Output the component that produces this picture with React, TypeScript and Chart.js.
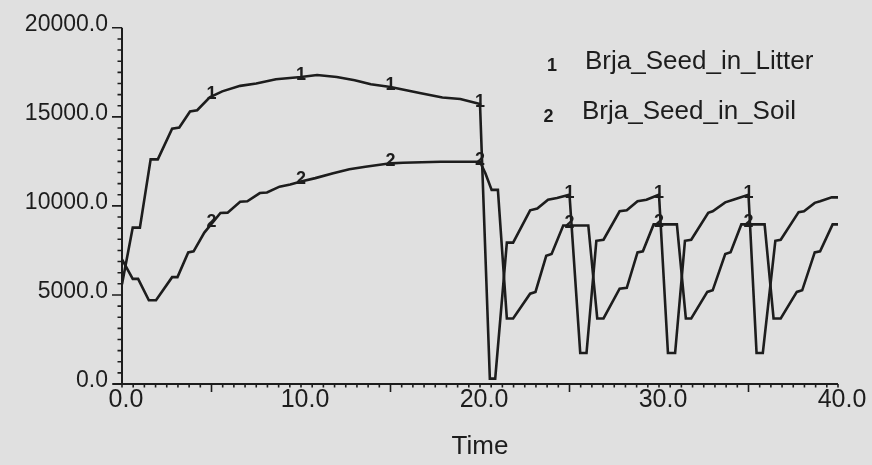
import React, { useEffect, useRef } from 'react';
import { Chart, registerables } from 'chart.js';

Chart.register(...registerables);

// ---- data ----
const litterTime = [
  0.0, 0.6, 1.0, 1.6, 2.0, 2.8, 3.2, 3.8, 4.2, 4.9, 5.6, 6.6, 7.5, 8.6, 10.0, 10.9, 12.0, 13.0, 13.9, 15.0,
  16.7, 17.9, 18.9, 20.0, 20.55, 20.85, 21.5, 21.85, 22.8, 23.2, 23.8, 24.3, 25.0, 25.6, 25.95, 26.5, 26.9,
  27.8, 28.2, 28.8, 29.3, 30.0, 30.5, 30.9, 31.45, 31.8, 32.75, 33.0, 33.7, 34.15, 35.0, 35.45, 35.8, 36.5,
  36.8, 37.8, 38.1, 38.7, 39.0, 39.65, 40.0,
];
const litterValues = [
  5600, 8780, 8780, 12610, 12610, 14330, 14400, 15300, 15370, 16100, 16430, 16740, 16870, 17110, 17240, 17350,
  17240, 17060, 16830, 16680, 16320, 16090, 16000, 15720, 300, 300, 7940, 7940, 9750, 9850, 10350, 10440, 10630,
  1740, 1740, 8040, 8100, 9700, 9750, 10260, 10350, 10630, 1740, 1740, 8040, 8100, 9610, 9700, 10200, 10350,
  10630, 1740, 1740, 8040, 8100, 9650, 9700, 10170, 10260, 10480, 10480,
];
const soilTime = [
  0.0, 0.6, 0.9, 1.5, 1.9, 2.8, 3.1, 3.7, 4.0, 4.6, 5.5, 5.9, 6.6, 7.0, 7.7, 8.1, 8.8, 9.4, 10.0, 10.8, 11.8,
  12.7, 13.6, 15.0, 15.7, 17.8, 20.0, 20.3, 20.65, 21.0, 21.5, 21.85, 22.8, 23.1, 23.7, 24.0, 24.65, 26.05,
  26.55, 26.9, 27.8, 28.2, 28.8, 29.1, 29.7, 31.0, 31.5, 31.8, 32.7, 33.0, 33.7, 34.0, 34.6, 35.9, 36.4, 36.8,
  37.7, 38.0, 38.7, 39.0, 39.7, 40.0,
];
const soilValues = [
  7000, 5900, 5900, 4700, 4700, 6000, 6000, 7390, 7450, 8500, 9600, 9620, 10230, 10260, 10720, 10750, 11080,
  11200, 11370, 11560, 11830, 12060, 12200, 12390, 12420, 12480, 12480, 11830, 10900, 10900, 3680, 3680, 5070,
  5170, 7200, 7300, 8900, 8900, 3680, 3680, 5350, 5400, 7390, 7450, 8960, 8960, 3680, 3680, 5170, 5260, 7300,
  7400, 8960, 8960, 3680, 3680, 5170, 5260, 7390, 7450, 8960, 8960,
];
const seriesNames = ['Brja_Seed_in_Litter', 'Brja_Seed_in_Soil'];
const seriesMarks = ['1', '2'];
const markerTimes = [5, 10, 15, 20, 25, 30, 35];
const xTickValues = [0, 10, 20, 30, 40];
const yTickValues = [0, 5000, 10000, 15000, 20000];
const xTitle = 'Time';

const BG = '#e0e0e0';
const INK = '#1d1d1d';
const FONT = '"Liberation Sans", Arial, Helvetica, sans-serif';

function valueAt(ts: number[], vs: number[], t: number): number {
  for (let i = 0; i < ts.length - 1; i++) {
    if (t >= ts[i] && t <= ts[i + 1]) {
      const f = ts[i + 1] === ts[i] ? 0 : (t - ts[i]) / (ts[i + 1] - ts[i]);
      return vs[i] + f * (vs[i + 1] - vs[i]);
    }
  }
  return vs[vs.length - 1];
}

const decorPlugin = {
  id: 'decor',
  beforeDraw(chart: any) {
    const { ctx, width, height } = chart;
    ctx.save();
    ctx.fillStyle = BG;
    ctx.fillRect(0, 0, width, height);
    ctx.restore();
  },
  afterDatasetsDraw(chart: any) {
    const { ctx } = chart;
    const xs = chart.scales.x;
    const ys = chart.scales.y;
    const series = [
      [litterTime, litterValues],
      [soilTime, soilValues],
    ];
    ctx.save();
    ctx.fillStyle = INK;
    ctx.font = `bold 18px ${FONT}`;
    ctx.textAlign = 'center';
    ctx.textBaseline = 'middle';
    series.forEach(([ts, vs], si) => {
      markerTimes.forEach((t) => {
        const v = valueAt(ts as number[], vs as number[], t);
        ctx.fillText(seriesMarks[si], xs.getPixelForValue(t), ys.getPixelForValue(v) - 2);
      });
    });
    ctx.restore();
  },
  afterDraw(chart: any) {
    const { ctx, chartArea } = chart;
    const xs = chart.scales.x;
    const ys = chart.scales.y;
    const { left, right, top, bottom } = chartArea;
    ctx.save();
    ctx.strokeStyle = INK;
    ctx.lineWidth = 2;
    ctx.beginPath();
    ctx.moveTo(left, top);
    ctx.lineTo(left, bottom + 1);
    ctx.moveTo(left - 9, bottom);
    ctx.lineTo(right, bottom);
    ctx.stroke();
    ctx.lineWidth = 1.6;
    ctx.beginPath();
    for (let k = 0; k <= 64; k++) {
      const t = k * 0.625;
      const px = xs.getPixelForValue(t);
      const len = k % 8 === 0 && k % 16 !== 0 ? 8 : 3.5;
      ctx.moveTo(px, bottom);
      ctx.lineTo(px, bottom + len);
    }
    for (let k = 0; k <= 32; k++) {
      const v = k * 625;
      const py = ys.getPixelForValue(v);
      const len = k % 8 === 0 ? 10 : 4.5;
      ctx.moveTo(left - len, py);
      ctx.lineTo(left, py);
    }
    ctx.stroke();

    // legend
    ctx.fillStyle = INK;
    ctx.textBaseline = 'middle';
    const rows = [
      { mx: 552, my: 66, tx: 585, ty: 62 },
      { mx: 548.5, my: 117, tx: 582, ty: 112 },
    ];
    rows.forEach((r, i) => {
      ctx.textAlign = 'center';
      ctx.font = `bold 18px ${FONT}`;
      ctx.fillText(seriesMarks[i], r.mx, r.my);
      ctx.textAlign = 'left';
      ctx.font = `26px ${FONT}`;
      ctx.fillText(seriesNames[i], r.tx, r.ty);
    });
    ctx.restore();
  },
};

export default function App() {
  const canvasRef = useRef<HTMLCanvasElement | null>(null);

  useEffect(() => {
    document.body.style.margin = '0';
    document.body.style.overflow = 'hidden';
    document.body.style.background = BG;
    const canvas = canvasRef.current;
    if (!canvas) return;
    const chart = new Chart(canvas, {
      type: 'line',
      data: {
        datasets: [
          {
            label: seriesNames[0],
            data: litterTime.map((t, i) => ({ x: t, y: litterValues[i] })),
            borderColor: INK,
            borderWidth: 2.6,
            pointRadius: 0,
            tension: 0,
            fill: false,
          },
          {
            label: seriesNames[1],
            data: soilTime.map((t, i) => ({ x: t, y: soilValues[i] })),
            borderColor: INK,
            borderWidth: 2.6,
            pointRadius: 0,
            tension: 0,
            fill: false,
          },
        ],
      },
      options: {
        animation: false,
        responsive: true,
        maintainAspectRatio: false,
        layout: { padding: { top: 23, right: 34, left: 0, bottom: 0 } },
        plugins: { legend: { display: false }, tooltip: { enabled: false } },
        events: [],
        scales: {
          x: {
            type: 'linear',
            min: 0,
            max: 40,
            afterFit: (s: any) => {
              s.height = 81;
            },
            afterBuildTicks: (s: any) => {
              s.ticks = xTickValues.map((v) => ({ value: v }));
            },
            grid: { display: false, drawTicks: false },
            border: { display: false },
            ticks: {
              padding: 1,
              labelOffset: 4,
              color: INK,
              font: { family: FONT, size: 25 },
              callback: (v: any) => Number(v).toFixed(1),
              maxRotation: 0,
              autoSkip: false,
            },
            title: {
              display: true,
              text: xTitle,
              color: INK,
              font: { family: FONT, size: 26 },
              padding: { top: 0, bottom: 3 },
            },
          },
          y: {
            type: 'linear',
            min: 0,
            max: 20000,
            afterFit: (s: any) => {
              s.width = 122;
            },
            afterBuildTicks: (s: any) => {
              s.ticks = yTickValues.map((v) => ({ value: v }));
            },
            grid: { display: false, drawTicks: false },
            border: { display: false },
            ticks: {
              padding: 14,
              labelOffset: -3,
              color: INK,
              font: { family: FONT, size: 23 },
              callback: (v: any) => Number(v).toFixed(1),
              autoSkip: false,
            },
          },
        },
      },
      plugins: [decorPlugin],
    } as any);
    return () => chart.destroy();
  }, []);

  return (
    <div style={{ position: 'relative', width: 872, height: 465, background: BG }}>
      <canvas ref={canvasRef} />
    </div>
  );
}
